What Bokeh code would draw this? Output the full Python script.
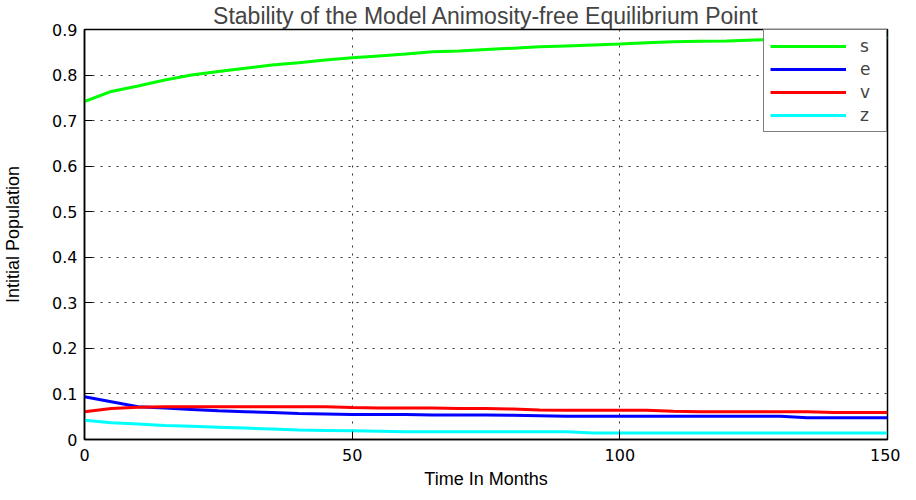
from bokeh.plotting import figure
from bokeh.models import FixedTicker, Range1d, Legend, LegendItem
from bokeh.embed import file_html
from bokeh.resources import INLINE

months = [0, 5, 10, 15, 20, 25, 30, 35, 40, 45, 50, 55, 60, 65, 70, 75, 80,
          85, 90, 95, 100, 105, 110, 115, 120, 125, 130, 135, 140, 145, 150]
s_vals = [0.742, 0.764, 0.776, 0.789, 0.800, 0.808, 0.815, 0.822, 0.827, 0.833,
          0.838, 0.842, 0.846, 0.851, 0.853, 0.856, 0.859, 0.862, 0.864, 0.866,
          0.868, 0.871, 0.873, 0.874, 0.875, 0.877, 0.878, 0.879, 0.880, 0.881, 0.882]
e_vals = [0.094, 0.083, 0.072, 0.069, 0.066, 0.063, 0.061, 0.059, 0.057, 0.056,
          0.055, 0.055, 0.055, 0.054, 0.054, 0.054, 0.053, 0.052, 0.051, 0.051,
          0.051, 0.051, 0.051, 0.051, 0.051, 0.051, 0.051, 0.048, 0.048, 0.048, 0.048]
v_vals = [0.061, 0.068, 0.071, 0.072, 0.072, 0.072, 0.072, 0.072, 0.072, 0.072,
          0.070, 0.069, 0.069, 0.069, 0.068, 0.068, 0.067, 0.065, 0.064, 0.064,
          0.064, 0.064, 0.062, 0.061, 0.061, 0.061, 0.061, 0.061, 0.059, 0.059, 0.059]
z_vals = [0.042, 0.037, 0.034, 0.031, 0.029, 0.027, 0.025, 0.023, 0.021, 0.020,
          0.019, 0.018, 0.017, 0.017, 0.017, 0.017, 0.017, 0.017, 0.017, 0.014,
          0.014, 0.014, 0.014, 0.014, 0.014, 0.014, 0.014, 0.014, 0.014, 0.014, 0.014]

series_names = ["s", "e", "v", "z"]
series_colors = ["#00ff00", "#0000ff", "#ff0000", "#00ffff"]
x_ticks = [0, 50, 100, 150]
y_ticks = [0, 0.1, 0.2, 0.3, 0.4, 0.5, 0.6, 0.7, 0.8, 0.9]
y_tick_labels = ["0", "0.1", "0.2", "0.3", "0.4", "0.5", "0.6", "0.7", "0.8", "0.9"]
x_tick_labels = ["0", "50", "100", "150"]

TICK_FONT = "DejaVu Sans"
LABEL_FONT = "Liberation Sans"

p = figure(width=900, height=492, output_backend="svg", toolbar_location=None,
           x_range=Range1d(0, 150), y_range=Range1d(0, 0.9),
           title="Stability of the Model Animosity-free Equilibrium Point",
           min_border_left=80, min_border_right=13, min_border_top=27, min_border_bottom=53)

p.title.align = "center"
p.title.text_font = LABEL_FONT
p.title.text_font_size = "23px"
p.title.text_font_style = "normal"
p.title.standoff = 1

p.background_fill_color = "white"
p.border_fill_color = "white"
p.outline_line_color = "black"
p.outline_line_width = 1.5

for ax in (p.xaxis[0], p.yaxis[0]):
    ax.major_tick_in = 8
    ax.major_tick_out = 0
    ax.minor_tick_line_color = None
    ax.axis_line_color = "black"
    ax.axis_line_width = 1.5
    ax.major_tick_line_color = "black"
    ax.major_label_text_font = TICK_FONT
    ax.major_label_text_font_size = "16px"
    ax.major_label_text_color = "black"
    ax.axis_label_text_font = LABEL_FONT
    ax.axis_label_text_font_size = "18px"
    ax.axis_label_text_font_style = "normal"
    ax.axis_label_text_color = "black"

p.xaxis[0].ticker = FixedTicker(ticks=x_ticks)
p.xaxis[0].major_label_overrides = {t: l for t, l in zip(x_ticks, x_tick_labels)}
p.xaxis[0].axis_label = "Time In Months"
p.xaxis[0].major_label_standoff = 9
p.xaxis[0].axis_label_standoff = 5

p.yaxis[0].ticker = FixedTicker(ticks=y_ticks)
p.yaxis[0].major_label_overrides = {t: l for t, l in zip(y_ticks, y_tick_labels)}
p.yaxis[0].axis_label = "Intitial Population"
p.yaxis[0].major_label_standoff = 7
p.yaxis[0].axis_label_standoff = 26

p.xgrid.ticker = FixedTicker(ticks=x_ticks)
p.ygrid.ticker = FixedTicker(ticks=y_ticks)
for g in (p.xgrid[0], p.ygrid[0]):
    g.grid_line_color = "#333333"
    g.grid_line_dash = "2 6"
    g.grid_line_width = 1

renderers = []
for name, vals, col in zip(series_names, [s_vals, e_vals, v_vals, z_vals], series_colors):
    r = p.line(months, vals, line_color=col, line_width=3)
    renderers.append((name, r))

legend = Legend(items=[LegendItem(label=n, renderers=[r]) for n, r in renderers],
                location="top_right", margin=0, padding=6, spacing=3,
                glyph_width=76, glyph_height=20, label_height=20, label_standoff=14,
                label_text_font=TICK_FONT, label_text_font_size="17px",
                border_line_color="black", border_line_width=1.5,
                background_fill_color="white", background_fill_alpha=1)
p.add_layout(legend, "center")

open("out.html", "w").write(file_html(p, INLINE))
